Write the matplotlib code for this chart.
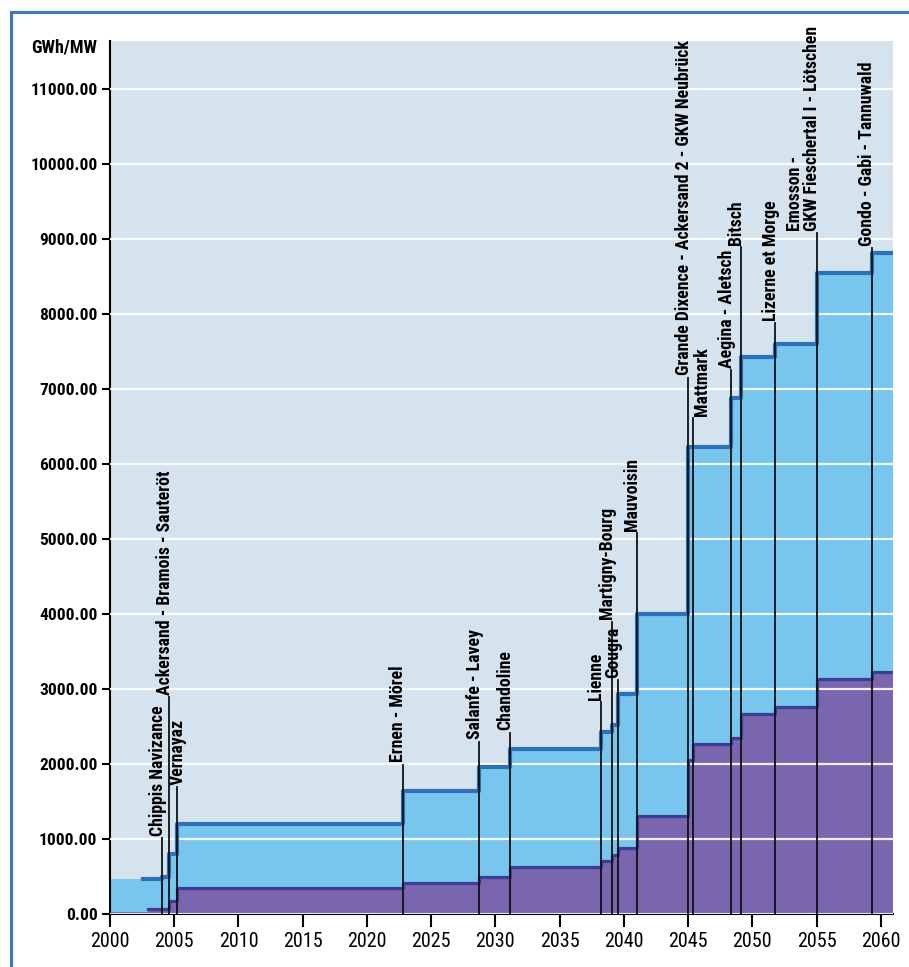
import matplotlib
matplotlib.use("Agg")
import matplotlib.pyplot as plt
from matplotlib.lines import Line2D

# stufenweiser Ausbau: Jahr des Schritts und Wert ab diesem Jahr (GWh/MW)
outer_years = [2000.0, 2002.55, 2004.05, 2004.62, 2005.22, 2022.77, 2028.74, 2031.14,
               2038.2, 2039.05, 2039.52, 2041.0, 2045.03, 2048.36, 2049.09, 2051.8,
               2055.04, 2059.28]
outer_vals = [465, 470, 500, 800, 1200, 1636, 1956, 2196, 2431, 2520, 2929, 3996,
              6230, 6880, 7420, 7600, 8542, 8817]

inner_years = [2000.0, 2002.96, 2004.62, 2005.22, 2022.77, 2028.74, 2031.14, 2038.2,
               2039.05, 2039.52, 2041.0, 2045.03, 2045.35, 2048.36, 2049.09, 2051.8,
               2055.04, 2059.28]
inner_vals = [30, 70, 170, 345, 410, 497, 622, 711, 787, 876, 1307, 2053, 2262, 2342,
              2662, 2756, 3133, 3231]

end_year = 2060.95

# Kraftwerke: Name, Jahr, Höhe des Beschriftungsanfangs
plant_names = ["Chippis Navizance", "Ackersand - Bramois - Sauteröt", "Vernayaz",
               "Ernen - Mörel", "Salanfe - Lavey", "Chandoline", "Lienne",
               "Martigny-Bourg", "Gougra", "Mauvoisin",
               "Grande Dixence - Ackersand 2 - GKW Neubrück", "Mattmark",
               "Aegina - Aletsch", "Bitsch", "Lizerne et Morge",
               "Emosson -\nGKW Fieschertal I - Lötschen", "Gondo - Gabi - Tannuwald"]
plant_years = [2004.05, 2004.62, 2005.22, 2022.77, 2028.74, 2031.14, 2038.2, 2039.05,
               2039.52, 2041.0, 2045.03, 2045.35, 2048.36, 2049.09, 2051.8, 2055.04,
               2059.28]
plant_label_y = [1010, 2890, 1690, 1990, 2300, 2420, 2830, 3900, 3120, 5080, 7150,
                 6610, 7250, 8890, 7880, 9080, 8880]
# auf welcher Seite der Linie der Text steht
plant_label_va = ["baseline", "baseline", "center", "baseline", "baseline", "baseline",
                  "baseline", "baseline", "baseline", "baseline", "baseline", "top",
                  "baseline", "baseline", "baseline", "baseline", "baseline"]

yticks = list(range(0, 12000, 1000))
xticks = list(range(2000, 2061, 5))

FONT = ["Roboto Condensed", "Liberation Sans Narrow", "DejaVu Sans"]

fig = plt.figure(figsize=(9.09, 9.67), dpi=100)
ax = fig.add_axes([110 / 909, 53 / 967, 783 / 909, 873 / 967])
ax.set_facecolor("#d5e3ef")

ox = outer_years + [end_year]
oy = outer_vals + [outer_vals[-1]]
ix = inner_years + [end_year]
iy = inner_vals + [inner_vals[-1]]

ax.fill_between(ox, 0, oy, step="post", color="#78c6ee", lw=0, zorder=1)
ax.fill_between(ix, 0, iy, step="post", color="#7a66ae", lw=0, zorder=1.1)
ax.step(ox[1:], oy[1:], where="post", color="#2d72b8", lw=3, zorder=3)
ax.step(ix[1:], iy[1:], where="post", color="#3b3e97", lw=2.3, zorder=3.1)

for name, yr, ly, va in zip(plant_names, plant_years, plant_label_y, plant_label_va):
    ax.plot([yr, yr], [0, ly], color="#111111", lw=1.3, zorder=4)
    ax.text(yr + 0.05, ly + 30, name, rotation=90, rotation_mode="anchor",
            ha="left", va=va, multialignment="left",
            family=FONT, fontweight="bold", fontsize=12.8, zorder=5,
            clip_on=False, linespacing=0.95)

ax.set_xlim(2000, end_year)
ax.set_ylim(0, 11640)
ax.set_yticks(yticks)
ax.set_yticklabels([f"{v:.2f}" for v in yticks], family=FONT, fontweight="bold",
                   fontsize=12.5)
ax.set_xticks(xticks)
ax.set_xticklabels([str(v) for v in xticks], family=FONT, fontsize=14.5)
ax.tick_params(axis="y", length=6, width=1.5, pad=3)
ax.tick_params(axis="x", length=9, width=1.5, pad=4)

ax.set_axisbelow(False)
ax.yaxis.grid(True, color="white", lw=1.6, alpha=0.9)
ax.xaxis.grid(False)
for s in ["top", "right"]:
    ax.spines[s].set_visible(False)
ax.spines["left"].set_linewidth(1.5)
ax.spines["bottom"].set_linewidth(1.5)

ax.text(-0.016, 0.992, "GWh/MW", transform=ax.transAxes, ha="right", va="center",
        family=FONT, fontweight="bold", fontsize=13)

# Rahmen oben und links
fig.add_artist(Line2D([11 / 909, 11 / 909], [0, 1 - 12 / 967], color="#3b7bb8",
                      lw=2.2, transform=fig.transFigure))
fig.add_artist(Line2D([11 / 909, 1], [1 - 12 / 967, 1 - 12 / 967], color="#3b7bb8",
                      lw=2.2, transform=fig.transFigure))

fig.savefig("out.png", dpi=100)
